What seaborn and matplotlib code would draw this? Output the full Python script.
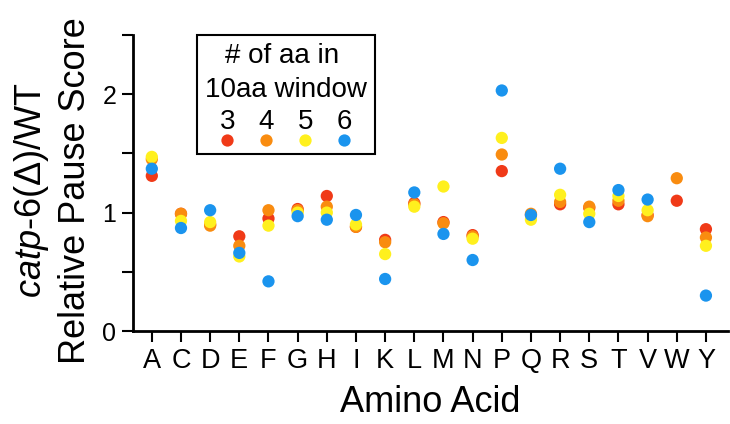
import numpy as np
import pandas as pd
import matplotlib
matplotlib.use("Agg")
import matplotlib.pyplot as plt
import seaborn as sns
from matplotlib.offsetbox import VPacker

# ----------------- Data Setup -----------------
amino_acids = ["A", "C", "D", "E", "F", "G", "H", "I", "K", "L",
               "M", "N", "P", "Q", "R", "S", "T", "V", "W", "Y"]
groups = ["3", "4", "5", "6"]
score_3 = [1.31, 0.99, 0.90, 0.80, 0.95, 1.03, 1.14, 0.88, 0.77, 1.08,
           0.92, 0.81, 1.35, 0.98, 1.07, 1.04, 1.07, 0.98, 1.10, 0.86]
score_4 = [1.45, 0.99, 0.89, 0.72, 1.02, 1.02, 1.05, 0.88, 0.75, 1.07,
           0.91, 0.80, 1.49, 0.99, 1.09, 1.05, 1.10, 0.97, 1.29, 0.79]
score_5 = [1.47, 0.93, 0.92, 0.63, 0.89, 1.00, 1.00, 0.90, 0.65, 1.05,
           1.22, 0.78, 1.63, 0.94, 1.15, 0.99, 1.14, 1.02, np.nan, 0.72]
score_6 = [1.37, 0.87, 1.02, 0.66, 0.42, 0.97, 0.94, 0.98, 0.44, 1.17,
           0.82, 0.60, 2.03, 0.98, 1.37, 0.92, 1.19, 1.11, np.nan, 0.30]
colors = ["#F03A18", "#F98C10", "#FFF01E", "#1A94EE"]

df = pd.concat([
    pd.DataFrame({"aa": amino_acids, "score": vals, "n": g})
    for g, vals in zip(groups, [score_3, score_4, score_5, score_6])
], ignore_index=True).dropna()

# ----------------- Style -----------------
sns.set_style("ticks")
plt.rcParams.update({
    "font.family": ["Liberation Sans", "DejaVu Sans"],
    "text.color": "black",
    "axes.labelcolor": "black",
    "xtick.color": "black",
    "ytick.color": "black",
    "mathtext.fontset": "custom",
    "mathtext.rm": "Liberation Sans",
    "mathtext.it": "Liberation Sans:italic",
})

fig = plt.figure(figsize=(7.3, 4.24), dpi=100)
ax = fig.add_axes([0.182, 0.219, 0.815, 0.699])

sns.scatterplot(data=df, x="aa", y="score", hue="n", hue_order=groups,
                palette=colors, s=78, linewidth=0, ax=ax)

ax.set_xlim(-0.65, 19.75)
ax.set_ylim(0, 2.5)
ax.set_yticks([0, 0.5, 1, 1.5, 2, 2.5])
ax.set_yticklabels(["0", "", "1", "", "2", ""])
ax.tick_params(axis="both", direction="out", length=8, width=1.5, color="black", pad=4)
ax.tick_params(axis="x", labelsize=19.5)
ax.tick_params(axis="y", labelsize=18)
for side in ["left", "bottom"]:
    ax.spines[side].set_linewidth(2)
    ax.spines[side].set_color("black")
sns.despine(ax=ax)

ax.set_xlabel("Amino Acid", fontsize=26, labelpad=8)
ax.set_ylabel(r"$\mathit{catp}$-$\mathit{6(Δ)}$/WT" + "\nRelative Pause Score",
              fontsize=26, linespacing=1.25)
ax.yaxis.set_label_coords(-0.067, 0.475)

# ----------------- Legend -----------------
handles, labels = ax.get_legend_handles_labels()
leg = ax.legend(handles, labels, title="# of aa in \n10aa window", ncol=4,
                loc="upper left", bbox_to_anchor=(0.107, 1.0), borderaxespad=0,
                fontsize=20, title_fontsize=20, markerfirst=False,
                handlelength=0.8, handleheight=0.4, handletextpad=0.1,
                columnspacing=0.6, labelspacing=0.2, borderpad=0.3,
                markerscale=1.0, fancybox=False,
                frameon=True, edgecolor="black", framealpha=1)
leg.get_frame().set_linewidth(1.5)
leg.get_title().set_multialignment("center")
leg.get_title().set_linespacing(1.4)
# put each number above its dot
for col in leg._legend_handle_box.get_children():
    for item in col.get_children():
        item.__class__ = VPacker
        item.align = "center"
        item.sep = -2

plt.savefig("out.png", dpi=100)
plt.close()
